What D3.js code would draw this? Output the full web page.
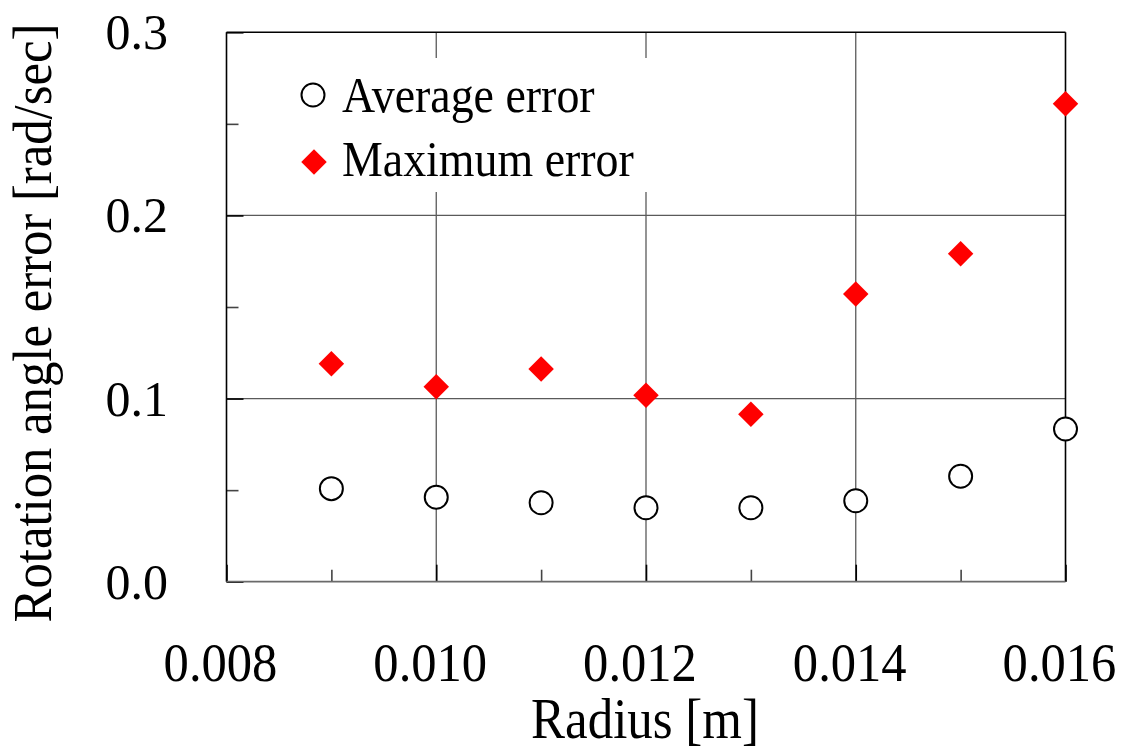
<!DOCTYPE html>
<html>
<head>
<meta charset="utf-8">
<script src="https://cdn.jsdelivr.net/npm/d3@7"></script>
<style>
  html, body { margin: 0; padding: 0; background: #fff; }
  svg { display: block; }
  text { font-family: "Liberation Serif", "Times New Roman", serif; fill: #000; }
</style>
</head>
<body>
<svg id="chart" width="1126" height="751"></svg>
<script>
// Radius of the sensing element [m]
const radius = [0.009, 0.010, 0.011, 0.012, 0.013, 0.014, 0.015, 0.016];
// Rotation angle error [rad/sec]
const averageError = [0.0508, 0.0461, 0.0431, 0.0404, 0.0404, 0.0442, 0.0576, 0.0834];
const maximumError = [0.1190, 0.1065, 0.1161, 0.1018, 0.0914, 0.1571, 0.1791, 0.2610];

const xMajorTicks = [0.008, 0.010, 0.012, 0.014, 0.016];
const xMinorTicks = [0.009, 0.011, 0.013, 0.015];
const yMajorTicks = [0.0, 0.1, 0.2, 0.3];
const yMinorTicks = [0.05, 0.15, 0.25];
const xGrid = [0.010, 0.012, 0.014];
const yGrid = [0.1, 0.2];

const legendLabels = ["Average error", "Maximum error"];
const xTitle = "Radius [m]";
const yTitle = "Rotation angle error [rad/sec]";

const svg = d3.select("#chart");
const W = 1126, H = 751;
svg.append("rect").attr("width", W).attr("height", H).attr("fill", "#fff");

const plotLeft = 226.5, plotRight = 1065.5, plotTop = 32.3, plotBottom = 581.7;

const x = d3.scaleLinear().domain([0.008, 0.016]).range([plotLeft, plotRight]);
const y = d3.scaleLinear().domain([0, 0.3]).range([plotBottom, plotTop]);

const gridColor = "#5a5a5a";

// grid lines
svg.append("g").selectAll("line").data(xGrid).join("line")
  .attr("x1", d => x(d)).attr("x2", d => x(d))
  .attr("y1", plotTop).attr("y2", plotBottom)
  .attr("stroke", gridColor).attr("stroke-width", 1.3);
svg.append("g").selectAll("line").data(yGrid).join("line")
  .attr("x1", plotLeft).attr("x2", plotRight)
  .attr("y1", d => y(d)).attr("y2", d => y(d))
  .attr("stroke", gridColor).attr("stroke-width", 1.3);

// legend background hides the grid behind it
svg.append("rect")
  .attr("x", 238).attr("y", 58).attr("width", 425).attr("height", 134)
  .attr("fill", "#fff");

// inward tick marks
const bottomAxisMajor = d3.axisBottom(x).tickValues(xMajorTicks).tickSize(-17).tickFormat("");
const bottomAxisMinor = d3.axisBottom(x).tickValues(xMinorTicks).tickSize(-12).tickFormat("");
const leftAxisMajor = d3.axisLeft(y).tickValues(yMajorTicks).tickSize(-17).tickFormat("");
const leftAxisMinor = d3.axisLeft(y).tickValues(yMinorTicks).tickSize(-12).tickFormat("");

function styleTicks(g, color) {
  g.select(".domain").remove();
  g.selectAll(".tick line").attr("stroke", color).attr("stroke-width", 1.6);
}
svg.append("g").attr("transform", `translate(0,${plotBottom})`).call(bottomAxisMajor).call(g => styleTicks(g, "#000"));
svg.append("g").attr("transform", `translate(0,${plotBottom})`).call(bottomAxisMinor).call(g => styleTicks(g, "#444"));
svg.append("g").attr("transform", `translate(${plotLeft},0)`).call(leftAxisMajor).call(g => styleTicks(g, "#000"));
svg.append("g").attr("transform", `translate(${plotLeft},0)`).call(leftAxisMinor).call(g => styleTicks(g, "#444"));

// frame
svg.append("line").attr("x1", plotLeft).attr("x2", plotLeft).attr("y1", plotTop).attr("y2", plotBottom)
  .attr("stroke", "#000").attr("stroke-width", 1.6);
svg.append("line").attr("x1", plotLeft).attr("x2", plotRight).attr("y1", plotTop).attr("y2", plotTop)
  .attr("stroke", "#000").attr("stroke-width", 1.6);
svg.append("line").attr("x1", plotRight).attr("x2", plotRight).attr("y1", plotTop).attr("y2", plotBottom)
  .attr("stroke", "#000").attr("stroke-width", 1.6);
svg.append("line").attr("x1", plotLeft).attr("x2", plotRight).attr("y1", plotBottom).attr("y2", plotBottom)
  .attr("stroke", "#6a6a6a").attr("stroke-width", 1.8);

// tick labels
svg.append("g").selectAll("text").data(xMajorTicks).join("text")
  .attr("transform", d => `translate(${x(d) - 6},681) scale(0.92,1)`)
  .attr("text-anchor", "middle")
  .attr("font-size", 55)
  .text(d => d3.format(".3f")(d));

svg.append("g").selectAll("text").data(yMajorTicks).join("text")
  .attr("x", 168).attr("y", d => y(d) + 17)
  .attr("text-anchor", "end")
  .attr("font-size", 50)
  .text(d => d3.format(".1f")(d));

// axis titles
svg.append("text")
  .attr("transform", `translate(${(plotLeft + plotRight) / 2 - 1},738) scale(0.91,1)`)
  .attr("text-anchor", "middle")
  .attr("font-size", 56)
  .text(xTitle);

svg.append("text")
  .attr("transform", `translate(51,323) rotate(-90) scale(0.94,1)`)
  .attr("text-anchor", "middle")
  .attr("font-size", 54)
  .text(yTitle);

// data markers
const diamond = d3.symbol().type(d3.symbolSquare).size(324);

svg.append("g").selectAll("circle").data(radius).join("circle")
  .attr("cx", d => x(d))
  .attr("cy", (d, i) => y(averageError[i]))
  .attr("r", 11.5)
  .attr("fill", "#fff").attr("stroke", "#000").attr("stroke-width", 2);

svg.append("g").selectAll("path").data(radius).join("path")
  .attr("d", diamond)
  .attr("transform", (d, i) => `translate(${x(d)},${y(maximumError[i])}) rotate(45)`)
  .attr("fill", "#ff0000");

// legend
const legend = svg.append("g");
legend.append("circle").attr("cx", 313).attr("cy", 95).attr("r", 11.5)
  .attr("fill", "#fff").attr("stroke", "#000").attr("stroke-width", 2);
legend.append("path").attr("d", diamond)
  .attr("transform", "translate(314,162) rotate(45)")
  .attr("fill", "#ff0000");
legend.selectAll("text").data(legendLabels).join("text")
  .attr("transform", (d, i) => `translate(342,${112 + i * 64}) scale(0.9,1)`)
  .attr("font-size", 51)
  .text(d => d);
</script>
</body>
</html>
